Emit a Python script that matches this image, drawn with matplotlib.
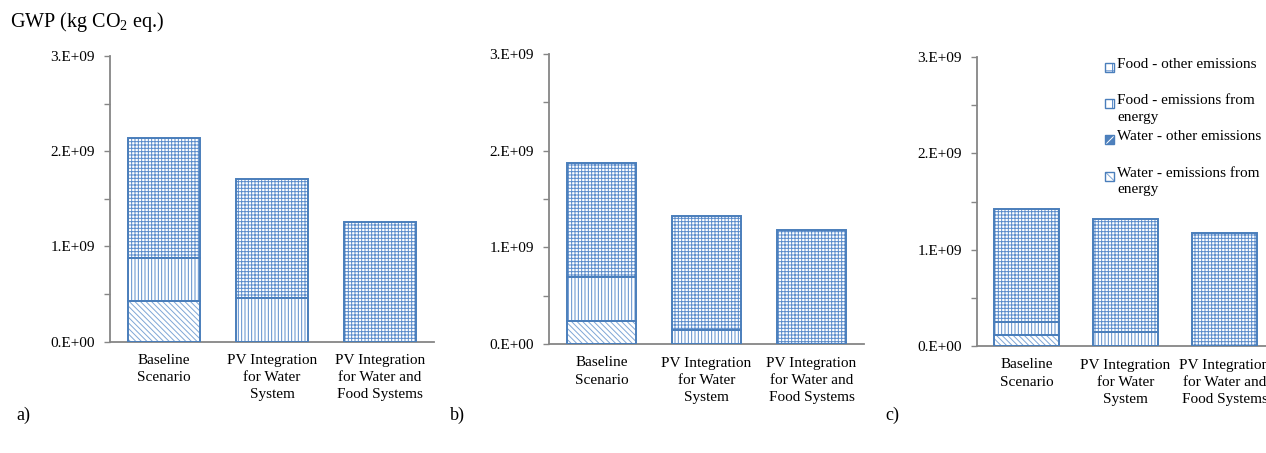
import numpy as np
import matplotlib
matplotlib.use("Agg")
import matplotlib.pyplot as plt
from matplotlib.patches import Rectangle

plt.rcParams['font.family'] = ['Liberation Serif', 'DejaVu Serif']
plt.rcParams['mathtext.fontset'] = 'custom'
plt.rcParams['mathtext.rm'] = 'Liberation Serif'
plt.rcParams['hatch.linewidth'] = 0.7

scenarios = ["Baseline\nScenario", "PV Integration\nfor Water\nSystem",
             "PV Integration\nfor Water and\nFood Systems"]
series = ["Water - emissions from energy", "Water - other emissions",
          "Food - emissions from energy", "Food - other emissions"]
legend_labels = ["Water - emissions from\nenergy", "Water - other emissions",
                 "Food - emissions from\nenergy", "Food - other emissions"]

# GWP per scenario, kg CO2 eq. (stack order bottom -> top)
water_energy_a = [0.43e9, 0.0, 0.0]
water_other_a = [0.0, 0.0, 0.0]
food_energy_a = [0.45e9, 0.46e9, 0.0]
food_other_a = [1.26e9, 1.25e9, 1.26e9]

water_energy_b = [0.24e9, 0.0, 0.0]
water_other_b = [0.0, 0.0, 0.0]
food_energy_b = [0.45e9, 0.145e9, 0.0]
food_other_b = [1.185e9, 1.175e9, 1.18e9]

water_energy_c = [0.114e9, 0.0, 0.0]
water_other_c = [0.0, 0.0, 0.0]
food_energy_c = [0.136e9, 0.145e9, 0.0]
food_other_c = [1.17e9, 1.175e9, 1.17e9]

yticks = [0, 1e9, 2e9, 3e9]
ytick_labels = ["0.E+00", "1.E+09", "2.E+09", "3.E+09"]

EDGE = "#4a7ebb"
HATCH = "#5b8ccb"
AXIS = "#868686"
# (facecolor, hatch colour, hatch) per series
STYLES = [("white", "#7fa6d6", "\\\\\\\\\\\\"),
          ("#4f81bd", "white", "///"),
          ("white", HATCH, "|||||"),
          ("white", HATCH, "+++++")]

fig = plt.figure(figsize=(12.66, 4.53), dpi=100)
W, H = 1266, 453

def panel(rect, stacks):
    ax = fig.add_axes(rect)
    x = np.arange(len(scenarios))
    bottom = np.zeros(len(scenarios))
    for vals, (fc, hc, hatch) in zip(stacks, STYLES):
        vals = np.asarray(vals)
        m = vals > 0
        ax.bar(x[m], vals[m], 0.66, bottom=bottom[m], facecolor=fc, edgecolor=hc,
               hatch=hatch, linewidth=0, zorder=2)
        ax.bar(x[m], vals[m], 0.66, bottom=bottom[m], fill=False, edgecolor=EDGE,
               linewidth=1.4, zorder=3)
        bottom += vals
    ax.set_xlim(-0.5, 2.5)
    ax.set_ylim(0, 3e9)
    ax.set_yticks(yticks)
    ax.set_yticklabels(ytick_labels, fontsize=11)
    ax.set_yticks(np.arange(0.5e9, 3e9, 1e9), minor=True)
    ax.set_xticks(x)
    ax.set_xticklabels(scenarios, fontsize=11, linespacing=1.4)
    ax.tick_params(axis='x', length=0, pad=9)
    ax.tick_params(axis='y', which='both', length=4, width=1, color=AXIS, pad=7)
    for s in ('top', 'right'):
        ax.spines[s].set_visible(False)
    for s in ('left', 'bottom'):
        ax.spines[s].set_color(AXIS)
        ax.spines[s].set_linewidth(1.3)
    ax.patch.set_alpha(0)
    return ax

def frac(x0, x1, y_zero, y_top):
    return [x0 / W, (H - y_zero) / H, (x1 - x0) / W, (y_zero - y_top) / H]

panel(frac(110, 434, 341.7, 56), [water_energy_a, water_other_a, food_energy_a, food_other_a])
panel(frac(549, 864, 344, 54), [water_energy_b, water_other_b, food_energy_b, food_other_b])
panel(frac(977, 1274, 346, 57), [water_energy_c, water_other_c, food_energy_c, food_other_c])

# legend, top entry first
entry_y = [67, 103, 139, 176]
for (fc, hc, hatch), label, yy in zip(STYLES[::-1], legend_labels[::-1], entry_y):
    box = ((1105 / W, (H - yy - 4.5) / H), 9 / W, 9 / H)
    fig.add_artist(Rectangle(*box, transform=fig.transFigure, facecolor=fc, edgecolor=hc,
                             hatch=hatch[:2], linewidth=0))
    fig.add_artist(Rectangle(*box, transform=fig.transFigure, fill=False, edgecolor=EDGE,
                             linewidth=1.0))
    fig.text(1117 / W, (H - yy + 9) / H, label, fontsize=11, va='top', ha='left',
             linespacing=1.35)

fig.text(10 / W, (H - 22) / H, "GWP (kg CO$_2$ eq.)", fontsize=14.5, va='center', ha='left')
fig.text(16 / W, (H - 415) / H, "a)", fontsize=13, va='center', ha='left')
fig.text(450 / W, (H - 415) / H, "b)", fontsize=13, va='center', ha='left')
fig.text(885 / W, (H - 415) / H, "c)", fontsize=13, va='center', ha='left')

fig.savefig("out.png", dpi=100)
